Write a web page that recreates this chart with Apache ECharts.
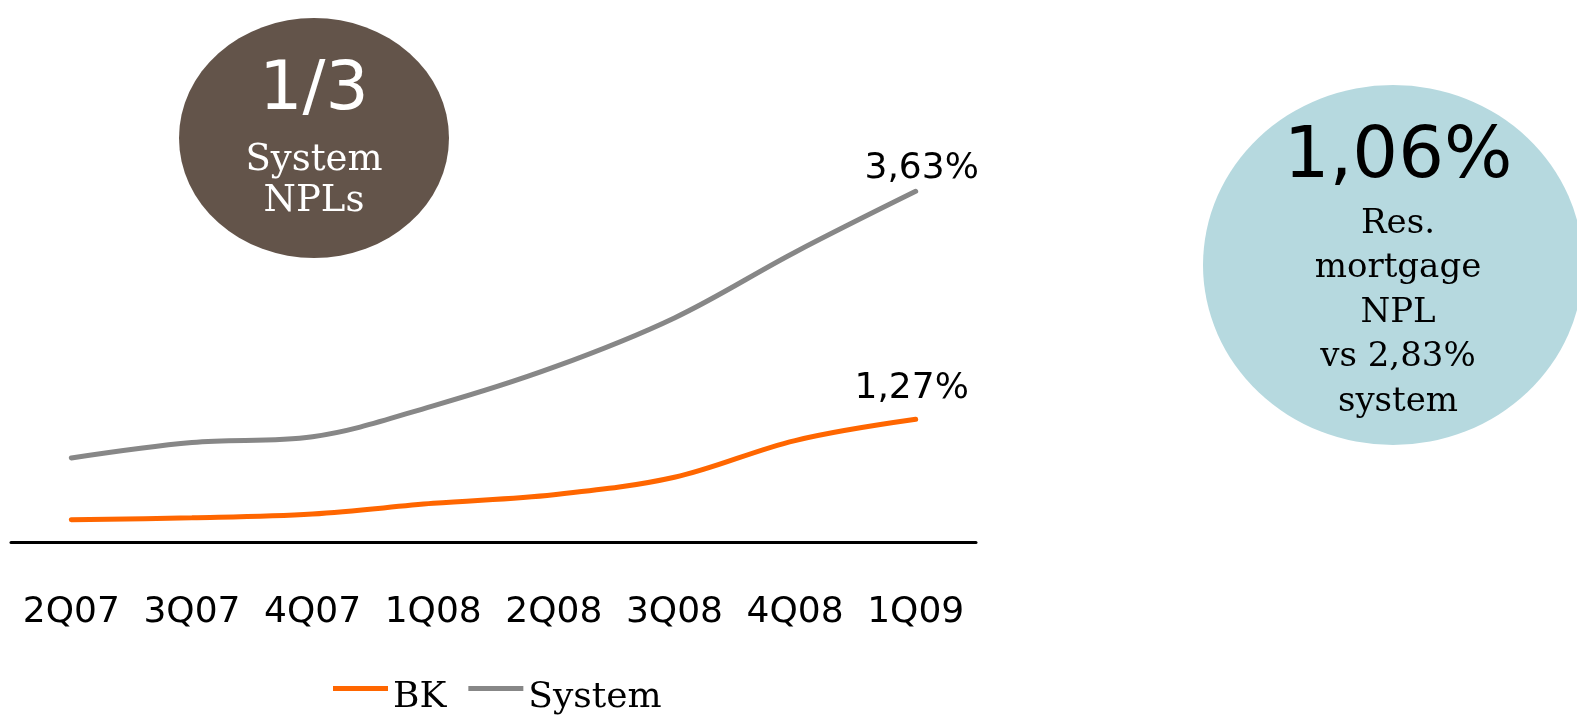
<!DOCTYPE html>
<html>
<head>
<meta charset="utf-8">
<script src="https://cdn.jsdelivr.net/npm/echarts@6/dist/echarts.min.js"></script>
<style>
  html, body { margin: 0; padding: 0; background: #ffffff; }
  #chart { width: 1577px; height: 717px; }
</style>
</head>
<body>
<div id="chart"></div>
<script>
// Quarterly NPL ratios (%), BK vs banking system
const quarters = ['2Q07', '3Q07', '4Q07', '1Q08', '2Q08', '3Q08', '4Q08', '1Q09'];
const bkNpl = [0.23, 0.25, 0.29, 0.40, 0.49, 0.67, 1.05, 1.27];
const systemNpl = [0.87, 1.03, 1.09, 1.41, 1.81, 2.32, 3.00, 3.63];

// Callout texts
const shareHeadline = '1/3';
const shareCaption = ['System', 'NPLs'];
const mortgageHeadline = '1,06%';
const mortgageCaption = ['Res.', 'mortgage', 'NPL', 'vs 2,83%', 'system'];

const SANS = '"DejaVu Sans", "Noto Sans", sans-serif';
const SLAB = '"DejaVu Serif", serif';

const pct = v => v.toFixed(2).replace('.', ',') + '%';

// only the most recent quarter carries a value label
function withEndLabel(values, distance, dx) {
  return values.map((v, i) => i === values.length - 1
    ? { value: v, label: { show: true, position: 'top', distance: distance, offset: [dx, 0] } }
    : v);
}

// legend swatch: a short bar sitting above the text's middle line
// (the empty second segment only extends the icon's box downwards)
const legendSwatch = 'path://M0,0L55,0L55,5L0,5Z M0,24L55,24Z';

const chart = echarts.init(document.getElementById('chart'), null, { renderer: 'canvas' });

const captionLines = (lines, cx, firstY, step, font, color) =>
  lines.map((t, i) => ({
    type: 'text', x: cx, y: firstY + i * step, z: 11,
    style: { text: t, font: font, fill: color, align: 'center', verticalAlign: 'middle' }
  }));

chart.setOption({
  animation: false,
  backgroundColor: '#ffffff',
  grid: { left: 11, right: 601, top: 59, bottom: 175, containLabel: false },
  xAxis: {
    type: 'category',
    data: quarters,
    boundaryGap: true,
    axisLine: { show: true, lineStyle: { color: '#000000', width: 3 } },
    axisTick: { show: false },
    axisLabel: { interval: 0, margin: 53, color: '#000000', fontFamily: SANS, fontSize: 36 }
  },
  yAxis: {
    type: 'value', min: 0, max: 5,
    show: false,
    splitLine: { show: false }
  },
  legend: {
    data: ['BK', 'System'],
    left: 333, top: 680,
    padding: 0,
    icon: legendSwatch,
    itemWidth: 55, itemHeight: 24, itemGap: 22,
    itemStyle: { borderWidth: 0 },
    textStyle: { color: '#000000', fontFamily: SLAB, fontSize: 36 }
  },
  series: [
    {
      name: 'BK', type: 'line',
      data: withEndLabel(bkNpl, 13, -4),
      smooth: 0.35,
      symbol: 'circle', symbolSize: 0, showSymbol: true,
      color: '#ff6600',
      lineStyle: { color: '#ff6600', width: 5, cap: 'round' },
      label: { show: false, color: '#000000', fontFamily: SANS, fontSize: 36, formatter: p => pct(p.value) }
    },
    {
      name: 'System', type: 'line',
      data: withEndLabel(systemNpl, 5, 6),
      smooth: 0.35,
      symbol: 'circle', symbolSize: 0, showSymbol: true,
      color: '#878787',
      lineStyle: { color: '#878787', width: 5, cap: 'round' },
      label: { show: false, color: '#000000', fontFamily: SANS, fontSize: 36, formatter: p => pct(p.value) }
    }
  ],
  graphic: [
    // brown callout: share of system NPLs
    { type: 'circle', x: 314, y: 138, scaleY: 120 / 135, z: 10,
      shape: { cx: 0, cy: 0, r: 135 }, style: { fill: '#63544a' } },
    { type: 'text', x: 314, y: 91, z: 11,
      style: { text: shareHeadline, font: '68px ' + SANS, fill: '#ffffff', align: 'center', verticalAlign: 'middle' } },
    ...captionLines(shareCaption, 314, 160, 41, '37px ' + SLAB, '#ffffff'),
    // light blue callout: residential mortgage NPL
    { type: 'circle', x: 1393, y: 265, scaleX: 190 / 180, z: 10,
      shape: { cx: 0, cy: 0, r: 180 }, style: { fill: '#b6d9df' } },
    { type: 'text', x: 1398, y: 158, z: 11,
      style: { text: mortgageHeadline, font: '72px ' + SANS, fill: '#000000', align: 'center', verticalAlign: 'middle' } },
    ...captionLines(mortgageCaption, 1398, 224, 44.5, '34px ' + SLAB, '#000000')
  ]
});
</script>
</body>
</html>
